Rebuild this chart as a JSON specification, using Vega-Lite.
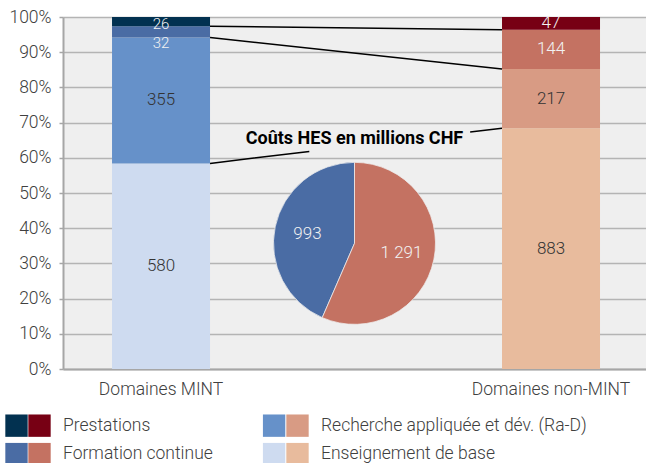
{
  "$schema": "https://vega.github.io/schema/vega-lite/v6.json",
  "width": 583,
  "height": 352,
  "autosize": {"type": "none"},
  "padding": {"left": 63, "top": 17, "right": 0, "bottom": 94},
  "config": {
    "font": "Roboto",
    "view": {"fill": "#efefef", "stroke": null},
    "locale": {"number": {"decimal": ",", "thousands": " ", "grouping": [3], "currency": ["", " CHF"]}},
    "axis": {
      "labelFont": "Roboto",
      "labelFontSize": 17.5,
      "labelFontWeight": 300,
      "labelColor": "#404040",
      "domainColor": "#a6a6a6",
      "domainWidth": 2,
      "tickColor": "#a6a6a6",
      "tickWidth": 1.5,
      "gridColor": "#b4b4b4",
      "gridWidth": 1.5,
      "title": null
    },
    "axisY": {"labelOverlap": false, "tickCount": 20},
    "legend": {"padding": 0}
  },
  "data": {
    "values": [
      {"domain": "Domaines MINT", "category": "Enseignement de base", "rank": 1, "value": 580},
      {"domain": "Domaines MINT", "category": "Recherche appliquée et dév. (Ra-D)", "rank": 2, "value": 355},
      {"domain": "Domaines MINT", "category": "Formation continue", "rank": 3, "value": 32},
      {"domain": "Domaines MINT", "category": "Prestations", "rank": 4, "value": 26},
      {"domain": "Domaines non-MINT", "category": "Enseignement de base", "rank": 1, "value": 883},
      {"domain": "Domaines non-MINT", "category": "Recherche appliquée et dév. (Ra-D)", "rank": 2, "value": 217},
      {"domain": "Domaines non-MINT", "category": "Formation continue", "rank": 3, "value": 144},
      {"domain": "Domaines non-MINT", "category": "Prestations", "rank": 4, "value": 47}
    ]
  },
  "layer": [
    {
      "transform": [{"filter": "datum.domain === 'Domaines MINT'"}],
      "mark": {"type": "bar"},
      "encoding": {
        "x": {
          "field": "domain", "type": "nominal",
          "scale": {"domain": ["Domaines MINT", "Domaines non-MINT"], "paddingInner": 0.7487, "paddingOuter": 0.1218, "align": 0.516},
          "axis": {"title": null, "labelAngle": 0, "ticks": false, "labelPadding": 11, "grid": false}
        },
        "y": {
          "field": "value", "type": "quantitative", "stack": "normalize",
          "scale": {"domain": [0, 1]},
          "axis": {"title": null, "format": ".0%", "values": [0, 0.1, 0.2, 0.3, 0.4, 0.5, 0.6, 0.7, 0.8, 0.9, 1], "tickCount": 20, "grid": true, "tickSize": 4, "labelPadding": 8}
        },
        "order": {"field": "rank", "type": "quantitative"},
        "color": {
          "field": "category", "type": "nominal",
          "scale": {
            "domain": ["Prestations", "Recherche appliquée et dév. (Ra-D)", "Formation continue", "Enseignement de base"],
            "range": ["#023150", "#6691c9", "#4a6ca4", "#cedbf0"]
          },
          "legend": {
            "title": null, "orient": "none", "legendX": -58, "legendY": 397,
            "direction": "horizontal", "columns": 2, "symbolType": "square", "symbolSize": 500,
            "symbolStrokeWidth": 0, "labelFontSize": 17.5, "labelExpr": "''",
            "labelOffset": 0, "columnPadding": 234.6, "rowPadding": 5.6
          }
        }
      }
    },
    {
      "transform": [{"filter": "datum.domain === 'Domaines non-MINT'"}],
      "mark": {"type": "bar"},
      "encoding": {
        "x": {"field": "domain", "type": "nominal"},
        "y": {
          "field": "value", "type": "quantitative", "stack": "normalize",
          "axis": {"title": null, "format": ".0%", "values": [0, 0.1, 0.2, 0.3, 0.4, 0.5, 0.6, 0.7, 0.8, 0.9, 1], "tickCount": 20, "grid": true, "tickSize": 4, "labelPadding": 8}
        },
        "order": {"field": "rank", "type": "quantitative"},
        "fill": {
          "field": "category", "type": "nominal",
          "sort": ["Prestations", "Recherche appliquée et dév. (Ra-D)", "Formation continue", "Enseignement de base"],
          "scale": {"range": ["#770014", "#d89b84", "#c47262", "#e8bb9d"]},
          "legend": {
            "title": null, "orient": "none", "legendX": -35, "legendY": 397,
            "direction": "horizontal", "columns": 2, "symbolType": "square", "symbolSize": 500,
            "symbolStrokeWidth": 0, "labelFontSize": 17.5, "labelFontWeight": 300, "labelColor": "#404040",
            "labelLimit": 400, "labelOffset": 12, "columnPadding": 73, "rowPadding": 5.6
          }
        }
      }
    },
    {
      "mark": {"type": "text", "fontSize": 17, "fontWeight": 300, "baseline": "middle"},
      "encoding": {
        "x": {"field": "domain", "type": "nominal"},
        "y": {
          "field": "value", "type": "quantitative", "stack": "normalize", "bandPosition": 0.5,
          "axis": {"title": null, "format": ".0%", "values": [0, 0.1, 0.2, 0.3, 0.4, 0.5, 0.6, 0.7, 0.8, 0.9, 1], "tickCount": 20, "grid": true, "tickSize": 4, "labelPadding": 8}
        },
        "order": {"field": "rank", "type": "quantitative"},
        "detail": {"field": "category"},
        "text": {"field": "value", "type": "quantitative"},
        "opacity": {
          "condition": {"test": "datum.domain === 'Domaines MINT' && (datum.category === 'Prestations' || datum.category === 'Formation continue')", "value": 0},
          "value": 1
        },
        "color": {
          "condition": {"test": "datum.category === 'Prestations' || datum.category === 'Formation continue'", "value": "#f2f2f2"},
          "value": "#333333"
        }
      }
    },
    {
      "transform": [
        {"stack": "value", "groupby": ["domain"], "sort": [{"field": "rank", "order": "ascending"}], "offset": "normalize", "as": ["y0", "y1"]},
        {"filter": "datum.domain === 'Domaines MINT' && datum.category === 'Prestations'"}
      ],
      "mark": {"type": "text", "fontSize": 15, "fontWeight": 300, "baseline": "middle", "dy": -2.5, "color": "#f2f2f2"},
      "encoding": {
        "x": {"field": "domain", "type": "nominal"},
        "y": {
          "field": "y0", "type": "quantitative",
          "axis": {"title": null, "format": ".0%", "values": [0, 0.1, 0.2, 0.3, 0.4, 0.5, 0.6, 0.7, 0.8, 0.9, 1], "tickCount": 20, "grid": true, "tickSize": 4, "labelPadding": 8}
        },
        "text": {"field": "value", "type": "quantitative"}
      }
    },
    {
      "transform": [
        {"stack": "value", "groupby": ["domain"], "sort": [{"field": "rank", "order": "ascending"}], "offset": "normalize", "as": ["y0", "y1"]},
        {"filter": "datum.domain === 'Domaines MINT' && datum.category === 'Formation continue'"}
      ],
      "mark": {"type": "text", "fontSize": 15, "fontWeight": 300, "baseline": "middle", "dy": 5, "color": "#f2f2f2"},
      "encoding": {
        "x": {"field": "domain", "type": "nominal"},
        "y": {
          "field": "y0", "type": "quantitative",
          "axis": {"title": null, "format": ".0%", "values": [0, 0.1, 0.2, 0.3, 0.4, 0.5, 0.6, 0.7, 0.8, 0.9, 1], "tickCount": 20, "grid": true, "tickSize": 4, "labelPadding": 8}
        },
        "text": {"field": "value", "type": "quantitative"}
      }
    },
    {
      "transform": [
        {"stack": "value", "groupby": ["domain"], "sort": [{"field": "rank", "order": "ascending"}], "offset": "normalize", "as": ["y0", "y1"]},
        {"filter": "datum.category === 'Prestations' || datum.category === 'Formation continue'"},
        {"pivot": "domain", "value": "y0", "groupby": ["category"]}
      ],
      "mark": {"type": "rule", "color": "#000000", "strokeWidth": 1.5},
      "encoding": {
        "x": {"datum": "Domaines MINT", "type": "nominal", "bandPosition": 1},
        "x2": {"datum": "Domaines non-MINT", "bandPosition": 0},
        "y": {
          "field": "Domaines MINT", "type": "quantitative",
          "axis": {"title": null, "format": ".0%", "values": [0, 0.1, 0.2, 0.3, 0.4, 0.5, 0.6, 0.7, 0.8, 0.9, 1], "tickCount": 20, "grid": true, "tickSize": 4, "labelPadding": 8}
        },
        "y2": {"field": "Domaines non-MINT"}
      }
    },
    {
      "transform": [
        {"stack": "value", "groupby": ["domain"], "sort": [{"field": "rank", "order": "ascending"}], "offset": "normalize", "as": ["y0", "y1"]},
        {"filter": "datum.category === 'Recherche appliquée et dév. (Ra-D)'"},
        {"pivot": "domain", "value": "y0", "groupby": ["category"]}
      ],
      "mark": {"type": "rule", "color": "#000000", "strokeWidth": 1.5, "strokeDash": [100, 162, 60, 1]},
      "encoding": {
        "x": {"datum": "Domaines MINT", "type": "nominal", "bandPosition": 1},
        "x2": {"datum": "Domaines non-MINT", "bandPosition": 0},
        "y": {
          "field": "Domaines MINT", "type": "quantitative",
          "axis": {"title": null, "format": ".0%", "values": [0, 0.1, 0.2, 0.3, 0.4, 0.5, 0.6, 0.7, 0.8, 0.9, 1], "tickCount": 20, "grid": true, "tickSize": 4, "labelPadding": 8}
        },
        "y2": {"field": "Domaines non-MINT"}
      }
    },
    {
      "transform": [{"aggregate": [{"op": "sum", "field": "value", "as": "total"}], "groupby": ["domain"]}],
      "mark": {"type": "arc", "outerRadius": 81, "stroke": "#efefef", "strokeWidth": 0.75},
      "encoding": {
        "theta": {"field": "total", "type": "quantitative", "stack": true},
        "order": {"field": "domain", "type": "nominal", "sort": "descending"},
        "detail": {"field": "domain"},
        "y": {
          "datum": 0.357, "type": "quantitative",
          "axis": {"title": null, "format": ".0%", "values": [0, 0.1, 0.2, 0.3, 0.4, 0.5, 0.6, 0.7, 0.8, 0.9, 1], "tickCount": 20, "grid": true, "tickSize": 4, "labelPadding": 8}
        },
        "color": {"condition": {"test": "datum.domain === 'Domaines MINT'", "value": "#4a6ca4"}, "value": "#c47262"}
      }
    },
    {
      "transform": [{"aggregate": [{"op": "sum", "field": "value", "as": "total"}], "groupby": ["domain"]}],
      "mark": {"type": "text", "radius": 48, "fontSize": 17, "fontWeight": 300, "color": "#f2f2f2", "baseline": "middle"},
      "encoding": {
        "theta": {"field": "total", "type": "quantitative", "stack": true},
        "order": {"field": "domain", "type": "nominal", "sort": "descending"},
        "detail": {"field": "domain"},
        "y": {
          "datum": 0.357, "type": "quantitative",
          "axis": {"title": null, "format": ".0%", "values": [0, 0.1, 0.2, 0.3, 0.4, 0.5, 0.6, 0.7, 0.8, 0.9, 1], "tickCount": 20, "grid": true, "tickSize": 4, "labelPadding": 8}
        },
        "text": {"field": "total", "type": "quantitative", "format": ",.0f"}
      }
    },
    {
      "data": {"values": [{"label": "Coûts HES en millions CHF"}]},
      "mark": {"type": "text", "fontSize": 18, "fontWeight": "bold", "color": "#000000", "baseline": "middle"},
      "encoding": {
        "y": {
          "datum": 0.653, "type": "quantitative",
          "axis": {"title": null, "format": ".0%", "values": [0, 0.1, 0.2, 0.3, 0.4, 0.5, 0.6, 0.7, 0.8, 0.9, 1], "tickCount": 20, "grid": true, "tickSize": 4, "labelPadding": 8}
        },
        "text": {"field": "label"}
      }
    }
  ]
}
